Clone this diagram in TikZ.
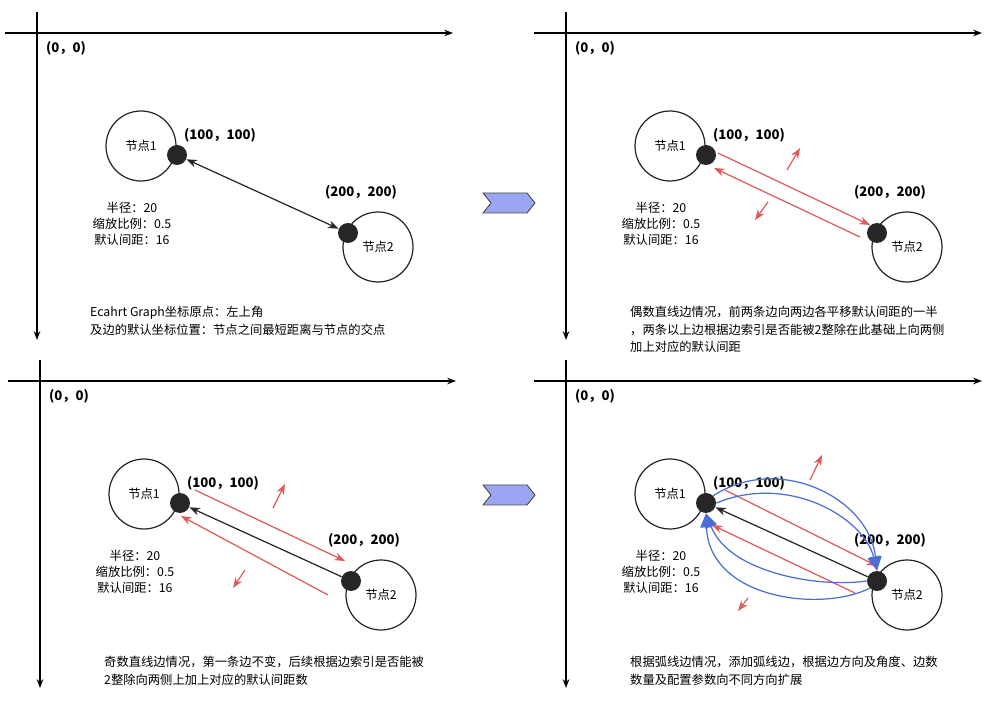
\documentclass[tikz,border=0pt]{standalone}
\usepackage{fontspec}
\setmainfont{Noto Sans CJK SC}
\usetikzlibrary{arrows.meta}
\definecolor{edgered}{HTML}{E05A5A}
\definecolor{arcblue}{HTML}{4A6ED8}
\definecolor{chev}{HTML}{9AA6F2}
\tikzset{
  axis/.style={line width=0.8pt, -{Stealth[length=5pt]}},
  vertex/.style={circle, draw=black!85, line width=0.7pt, minimum size=1.4cm, font=\fontsize{7}{8}\selectfont},
  anchorpt/.style={circle, fill=black!85, minimum size=0.4cm, inner sep=0pt},
  coord/.style={font=\bfseries\fontsize{7.5}{9}\selectfont},
  note/.style={font=\fontsize{7}{9}\selectfont, align=center},
  caption/.style={font=\fontsize{7}{10}\selectfont, align=left, anchor=north west},
  redarr/.style={edgered, line width=0.7pt, -{Stealth[length=6pt]}},
  blackarr/.style={black!85, line width=0.7pt, -{Stealth[length=6pt]}},
  bluearr/.style={arcblue, line width=0.7pt, -{Triangle[length=8pt,width=7pt]}}
}
% one panel: axes, two nodes, labels
\newcommand{\panelbase}[3]{%
  \begin{scope}[shift={(#2)}]
    \coordinate (#1ax0) at (37,12);
    \coordinate (#1ax1) at (37,340);
    \coordinate (#1ay0) at (5,33);
    \coordinate (#1ay1) at (453,33);
    \draw[axis] (#1ax0) -- (#1ax1);
    \draw[axis] (#1ay0) -- (#1ay1);
    \node[coord] (#1orig) at (66,48) {(0，0)};
    \node[vertex] (#1n1) at (141,146) {节点1};
    \node[vertex] (#1n2) at (378,247) {节点2};
    \node[anchorpt] (#1d1) at (177,155) {};
    \node[anchorpt] (#1d2) at (348,233) {};
    \node[coord] (#1l1) at (220,135) {(100，100)};
    \node[coord] (#1l2) at (361,192) {(200，200)};
    #3
  \end{scope}}
\newcommand{\params}[1]{%
  \node[note] (#1p) at (132,224) {半径：20\\缩放比例：0.5\\默认间距：16};}

\begin{document}
\begin{tikzpicture}[x=0.02cm, y=-0.02cm]
  \useasboundingbox (0,0) rectangle (997,705);

  % Panel 1: default edge
  \panelbase{a}{0,0}{%
    \params{a}
    \draw[black!85, line width=0.7pt, {Stealth[length=6pt]}-{Stealth[length=6pt]}] (ad1) -- (ad2);
    \node[caption] (acap) at (84,300) {Ecahrt Graph坐标原点：左上角\\及边的默认坐标位置：节点之间最短距离与节点的交点};}

  % Panel 2: even straight edges
  \panelbase{b}{529,0}{%
    \params{b}
    \coordinate (bs1) at (189,153); \coordinate (be1) at (341,225);
    \coordinate (bs2) at (331,237); \coordinate (be2) at (185,168);
    \draw[redarr] (bs1) -- (be1);
    \draw[redarr] (bs2) -- (be2);
    \coordinate (bu0) at (258,170); \coordinate (bu1) at (271,148);
    \coordinate (bv0) at (239,202); \coordinate (bv1) at (226,220);
    \draw[redarr] (bu0) -- (bu1);
    \draw[redarr] (bv0) -- (bv1);
    \node[caption] (bcap) at (95,300) {偶数直线边情况，前两条边向两边各平移默认间距的一半\\，两条以上边根据边索引是否能被2整除在此基础上向两侧\\加上对应的默认间距};}

  % Panel 3: odd straight edges
  \panelbase{c}{3,348}{%
    \params{c}
    \draw[blackarr] (cd2) -- (cd1);
    \coordinate (cs1) at (192,142); \coordinate (ce1) at (342,213);
    \coordinate (cs2) at (325,247); \coordinate (ce2) at (178,168);
    \draw[redarr] (cs1) -- (ce1);
    \draw[redarr] (cs2) -- (ce2);
    \coordinate (cu0) at (270,160); \coordinate (cu1) at (282,136);
    \coordinate (cv0) at (242,222); \coordinate (cv1) at (230,240);
    \draw[redarr] (cu0) -- (cu1);
    \draw[redarr] (cv0) -- (cv1);
    \node[caption] (ccap) at (95,302) {奇数直线边情况，第一条边不变，后续根据边索引是否能被\\2整除向两侧上加上对应的默认间距数};}

  % Panel 4: arc edges
  \panelbase{d}{529,348}{%
    \params{d}
    \draw[blackarr] (dd2) -- (dd1);
    \coordinate (ds1) at (196,142); \coordinate (de1) at (348,218);
    \coordinate (ds2) at (326,245); \coordinate (de2) at (183,177);
    \draw[redarr] (ds1) -- (de1);
    \draw[redarr] (ds2) -- (de2);
    \draw[bluearr] (dd1.north east) .. controls (250,105) and (340,150) .. (dd2.north);
    \draw[bluearr] (dd1.east) .. controls (260,125) and (335,170) .. (dd2.north);
    \draw[bluearr] (dd2.west) .. controls (290,240) and (200,225) .. (dd1.south);
    \draw[bluearr] (dd2.south west) .. controls (290,265) and (180,250) .. (dd1.south);
    \coordinate (du0) at (281,132); \coordinate (du1) at (293,107);
    \coordinate (dv0) at (219,250); \coordinate (dv1) at (209,263);
    \draw[redarr] (du0) -- (du1);
    \draw[redarr] (dv0) -- (dv1);
    \node[caption] (dcap) at (95,302) {根据弧线边情况，添加弧线边，根据边方向及角度、边数\\数量及配置参数向不同方向扩展};}

  % transitions
  \foreach \cy/\nm in {203/ch1, 495/ch2}
    \filldraw[fill=chev, draw=black!70, line width=0.5pt]
      (483,\cy-10) -- (527,\cy-10) -- (535,\cy) -- (527,\cy+10) -- (483,\cy+10) -- (491,\cy) -- cycle;
\end{tikzpicture}
\end{document}
